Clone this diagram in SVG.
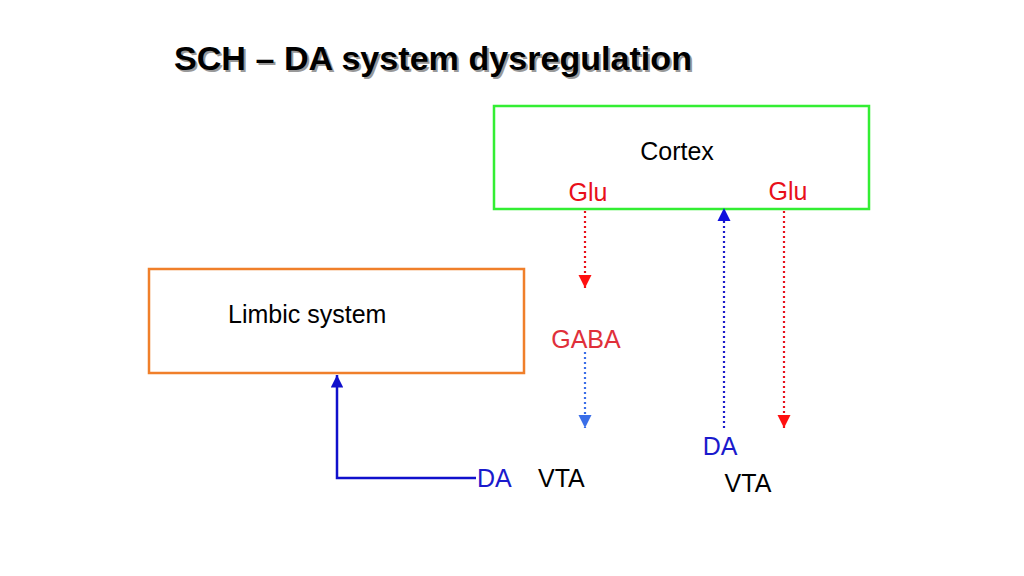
<svg xmlns="http://www.w3.org/2000/svg" width="1024" height="576" viewBox="0 0 1024 576">
<style>
text{font-family:"Liberation Sans",Arial,sans-serif;font-size:25px}
.title{font-size:34px;font-weight:bold}
.red{fill:#e8101a}
.blue{fill:#1a1acc}
.dot{fill:none;stroke-width:2.2;stroke-dasharray:2 3}
</style>
<defs>
<marker id="ar" viewBox="0 0 10 10" refX="10" refY="5" markerWidth="6" markerHeight="6" orient="auto" markerUnits="strokeWidth"><path d="M0,0L10,5L0,10z" fill="#ff1010"/></marker>
<marker id="ab" viewBox="0 0 10 10" refX="10" refY="5" markerWidth="6" markerHeight="6" orient="auto" markerUnits="strokeWidth"><path d="M0,0L10,5L0,10z" fill="#1010dd"/></marker>
<marker id="al" viewBox="0 0 10 10" refX="10" refY="5" markerWidth="6" markerHeight="6" orient="auto" markerUnits="strokeWidth"><path d="M0,0L10,5L0,10z" fill="#3a6ee8"/></marker>
<marker id="as" viewBox="0 0 10 10" refX="10" refY="5" markerWidth="5" markerHeight="5" orient="auto" markerUnits="strokeWidth"><path d="M0,0L10,5L0,10z" fill="#1010cc"/></marker>
</defs>
<rect width="1024" height="576" fill="#fff"/>
<g id="title">
<text x="176" y="72" class="title" fill="#999" textLength="518" lengthAdjust="spacingAndGlyphs">SCH – DA system dysregulation</text>
<text x="174" y="70" class="title" fill="#000" textLength="518" lengthAdjust="spacingAndGlyphs">SCH – DA system dysregulation</text>
</g>
<g id="cortex">
<rect x="494" y="106" width="375" height="103" fill="none" stroke="#33ee33" stroke-width="2.5"/>
<text x="677" y="160" text-anchor="middle">Cortex</text>
<text x="588" y="201" text-anchor="middle" class="red">Glu</text>
<text x="788" y="200" text-anchor="middle" class="red">Glu</text>
</g>
<g id="limbic">
<rect x="149" y="269" width="375" height="104" fill="none" stroke="#f07f2a" stroke-width="2.5"/>
<text x="228" y="323">Limbic system</text>
</g>
<g id="gaba">
<text x="586" y="348" text-anchor="middle" fill="#e0303a">GABA</text>
</g>
<g id="vta-left">
<text x="477" y="487" class="blue">DA</text>
<text x="538" y="487">VTA</text>
</g>
<g id="vta-right">
<text x="720" y="455" text-anchor="middle" class="blue">DA</text>
<text x="748" y="492" text-anchor="middle">VTA</text>
</g>
<g id="connectors">
<line x1="585" y1="211" x2="585" y2="288" class="dot" stroke="#e8101a" marker-end="url(#ar)"/>
<line x1="724" y1="428" x2="724" y2="208" class="dot" stroke="#1a1acc" marker-end="url(#ab)"/>
<line x1="784" y1="211" x2="784" y2="428" class="dot" stroke="#e8101a" marker-end="url(#ar)"/>
<line x1="585" y1="352" x2="585" y2="428" class="dot" stroke="#3a6ee8" marker-end="url(#al)"/>
<polyline points="476,478 337,478 337,375" fill="none" stroke="#1010cc" stroke-width="2.5" marker-end="url(#as)"/>
</g>
</svg>
